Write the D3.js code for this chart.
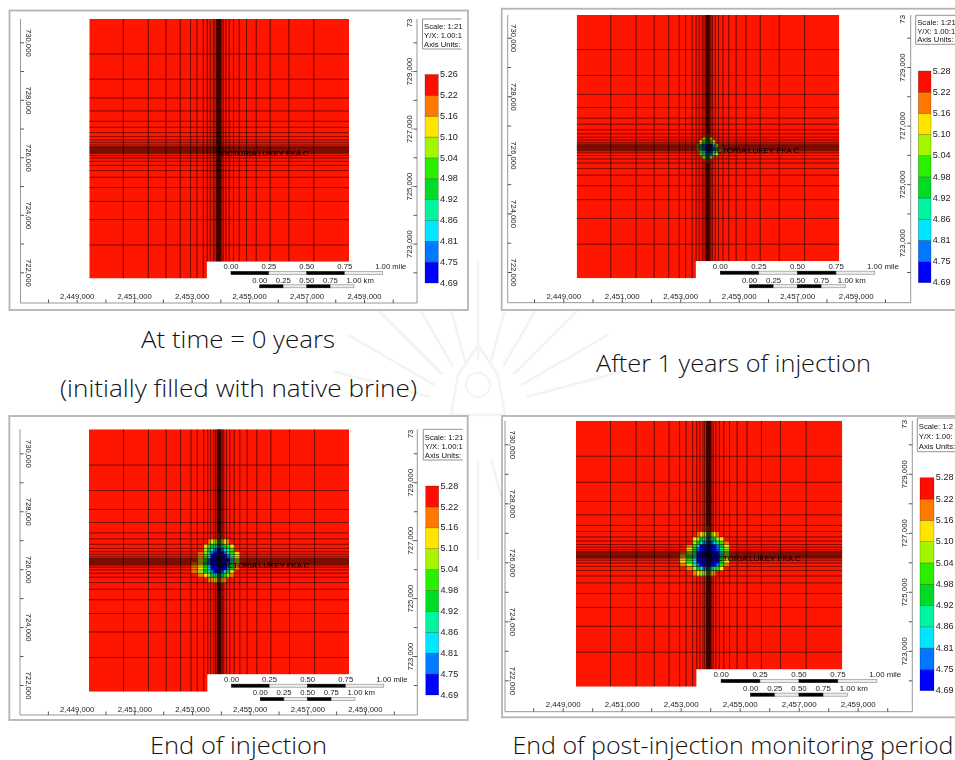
<!DOCTYPE html>
<html><head><meta charset="utf-8">
<script src="https://cdnjs.cloudflare.com/ajax/libs/d3/7.8.5/d3.min.js"></script>
<style>html,body{margin:0;padding:0;background:#fff;overflow:hidden}svg{display:block}text{font-family:"Liberation Sans",Arial,sans-serif}</style>
</head><body><svg id="c" width="955" height="760"></svg>
<script>
// ---------- data ----------
const gridX=[2450622,2451491,2452106,2452604,2452964,2453184,2453405,2453544,2453648,2453752,2453810,2453868,2453887,2453905,2453922,2453940,2453957,2453975,2453992,2454010,2454050,2454100,2454193,2454309,2454460,2454657,2454912,2455248,2455735,2456384,2457254];
const gridY=[729594,728713,728063,727611,727252,727043,726858,726718,726602,726510,726429,726371,726340,726313,726284,726255,726226,726197,726168,726139,726069,725976,725860,725721,725536,725304,724945,724469,723831,722950];
const plumeX=[2452964,2453184,2453405,2453544,2453648,2453752,2453868,2453975,2454100,2454193,2454309,2454460,2454657];
const plumeY=[727252,727043,726858,726718,726602,726510,726371,726255,726139,725976,725860,725721,725536];
const bins=[4.75,4.81,4.86,4.92,4.98,5.04,5.10,5.16,5.22];
const binColors=["#0000ff","#0078ff","#00e6ff","#00f5a0","#00dc28","#2cf000","#a6f500","#ffe400","#ff7800","#ff0a00"];
const legendLow=["4.69","4.75","4.81","4.86","4.92","4.98","5.04","5.10","5.16","5.22"];
const legendTopFirst="5.26", legendTopOther="5.28";
const labelX=[2449000,2451000,2453000,2455000,2457000,2459000];
const tickX=[2448000,2449000,2450000,2451000,2452000,2453000,2454000,2455000,2456000,2457000,2458000,2459000,2460000];
const labelLeft=[722000,724000,726000,728000,730000];
const labelRight=[723000,725000,727000,729000];
const tickY=[722000,723000,724000,725000,726000,727000,728000,729000,730000];
const scaleMiles=[0,0.25,0.5,0.75,1];
const scaleKm=[0,0.25,0.5,0.75,1];
const infoLines=["Scale: 1:21","Y/X: 1.00:1","Axis Units:"];
const infoLinesCut=["Scale: 1:2","Y/X: 1.00:","Axis Units:"];
const captions=[["At time = 0 years",238,339,194],["(initially filled with native brine)",238.5,388,357],["After 1 years of injection",733.5,363,275],["End of injection",238.5,745,177],["End of post-injection monitoring period",733,745,441]];
const plumeAfter1=[
[5.24,5.24,5.24,5.24,5.24,5.24,5.24,5.24,5.24,5.24,5.24,5.24],
[5.24,5.24,5.24,5.24,5.24,5.24,5.24,5.24,5.24,5.24,5.24,5.24],
[5.24,5.24,5.24,5.24,5.24,5.24,5.24,5.24,5.24,5.24,5.24,5.24],
[5.24,5.24,5.24,5.24,5.24,5.24,5.19,5.24,5.24,5.24,5.24,5.24],
[5.24,5.24,5.24,5.24,5.24,5.13,5.01,5.13,5.24,5.24,5.24,5.24],
[5.24,5.24,5.24,5.24,5.13,5.01,4.89,5.01,5.13,5.24,5.24,5.24],
[5.24,5.24,5.24,5.19,4.95,4.78,4.72,4.72,4.89,5.13,5.24,5.24],
[5.24,5.24,5.24,5.19,4.95,4.78,4.72,4.72,4.78,5.01,5.19,5.24],
[5.24,5.24,5.24,5.24,5.01,4.89,4.78,4.78,4.89,5.07,5.24,5.24],
[5.24,5.24,5.24,5.24,5.24,5.07,4.95,5.07,5.24,5.24,5.24,5.24],
[5.24,5.24,5.24,5.24,5.24,5.24,5.19,5.24,5.24,5.24,5.24,5.24],
[5.24,5.24,5.24,5.24,5.24,5.24,5.24,5.24,5.24,5.24,5.24,5.24]];
const plumeEndInj=[
[5.24,5.24,5.24,5.24,5.24,5.24,5.19,5.24,5.24,5.24,5.24,5.24],
[5.24,5.24,5.24,5.19,5.13,5.07,5.07,5.07,5.13,5.19,5.24,5.24],
[5.24,5.24,5.13,5.01,4.95,4.89,4.84,4.89,4.95,5.01,5.13,5.24],
[5.24,5.24,5.07,4.95,4.84,4.78,4.72,4.78,4.84,4.89,5.01,5.24],
[5.24,5.19,5.07,4.89,4.78,4.72,4.72,4.72,4.78,4.84,5.01,5.13],
[5.24,5.19,5.01,4.84,4.72,4.72,4.72,4.72,4.72,4.78,4.89,5.13],
[5.24,5.13,5.01,4.78,4.72,4.72,4.72,4.72,4.72,4.72,4.89,5.07],
[5.19,5.13,4.95,4.78,4.72,4.72,4.72,4.72,4.72,4.78,4.89,5.13],
[5.19,5.13,5.01,4.84,4.72,4.72,4.72,4.72,4.72,4.78,4.95,5.19],
[5.19,5.07,4.95,4.89,4.78,4.72,4.72,4.78,4.84,4.95,5.13,5.24],
[5.24,5.19,5.13,5.07,4.95,4.89,4.84,4.89,5.01,5.07,5.19,5.24],
[5.24,5.24,5.24,5.19,5.19,5.13,5.13,5.13,5.19,5.24,5.24,5.24]];
const plumeEndPost=[
[5.24,5.24,5.24,5.24,5.24,5.24,5.19,5.24,5.24,5.24,5.24,5.24],
[5.24,5.24,5.24,5.19,5.13,5.07,5.07,5.07,5.13,5.19,5.24,5.24],
[5.24,5.24,5.13,5.07,4.95,4.89,4.84,4.89,4.95,5.07,5.13,5.24],
[5.24,5.24,5.07,4.95,4.84,4.78,4.78,4.78,4.84,4.89,5.01,5.19],
[5.24,5.19,5.01,4.84,4.72,4.72,4.72,4.72,4.72,4.78,4.95,5.13],
[5.24,5.13,4.95,4.78,4.72,4.72,4.72,4.72,4.72,4.78,4.89,5.07],
[5.19,5.07,4.89,4.72,4.72,4.72,4.72,4.72,4.72,4.72,4.84,5.07],
[5.13,5.01,4.84,4.72,4.72,4.72,4.72,4.72,4.72,4.72,4.89,5.07],
[5.13,5.01,4.84,4.72,4.72,4.72,4.72,4.72,4.72,4.72,4.95,5.13],
[5.19,5.07,4.89,4.78,4.72,4.72,4.72,4.72,4.72,4.78,5.01,5.19],
[5.24,5.19,5.07,4.95,4.84,4.78,4.78,4.84,4.89,5.01,5.13,5.24],
[5.24,5.24,5.19,5.13,5.07,5.07,5.07,5.13,5.19,5.24,5.24,5.24]];
const plumeNone=null;
// ---------- layout of the four panels ----------
const panels=[
 {frame:[9.5,10.5,458.5,299.5],plot:[89.3,349,19,278.5],xr:[76.7,364],yr:[272.3,42.3],axL:20.5,axR:417,axB:303,lblL:29,lblR:409.7,top73:23,leg:[425,438.3,283,74.5],box:[422.5,19,39,30],legendTop:legendTopFirst,plume:plumeNone,info:infoLines},
 {frame:[501.7,8.7,470,301.3],plot:[576.7,839.3,15,278.3],xr:[563.3,855.7],yr:[272,37.7],axL:507.7,axR:910.7,axB:302.7,lblL:514,lblR:902.3,top73:19.3,leg:[918.3,931,282.7,71],box:[915.7,15.3,50,29],legendTop:legendTopOther,plume:plumeAfter1,info:infoLines},
 {frame:[9.3,416,458.4,304],plot:[89,349,429.3,691.7],xr:[76.7,365],yr:[685,453.3],axL:20,axR:417.3,axB:715,lblL:28.3,lblR:410,top73:434,leg:[425.7,438.7,695,486],box:[423.3,429.3,39.4,30.7],legendTop:legendTopOther,plume:plumeEndInj,info:infoLines},
 {frame:[502,416,470,301.3],plot:[576,842.3,420.7,686.7],xr:[562.7,857.7],yr:[680.3,444.3],axL:505,axR:912.3,axB:711.7,lblL:512.7,lblR:904.3,top73:424.3,leg:[920,934,690.7,477.7],box:[917.3,418,50,33.7],legendTop:legendTopOther,plume:plumeEndPost,info:infoLinesCut}];
const FT_PER_MILE=5280, FT_PER_KM=3281;
const svg=d3.select("#c");
const defs=svg.append("defs");
defs.append("filter").attr("id","soft").attr("x","-2%").attr("y","-2%").attr("width","104%").attr("height","104%")
 .append("feGaussianBlur").attr("stdDeviation",0.45);
const color=d3.scaleThreshold().domain(bins).range(binColors);
const fmt=d3.format(",");

// faint watermark rays in the gutter
const wm=svg.append("g").attr("stroke","#f3f3f3").attr("fill","none");
d3.range(-75,76,15).forEach(a=>{
  [a,a+180].forEach(b=>{const t=b*Math.PI/180;
  wm.append("line").attr("x1",478+Math.sin(t)*50).attr("y1",410-Math.cos(t)*50)
    .attr("x2",478+Math.sin(t)*150).attr("y2",410-Math.cos(t)*150).attr("stroke-width",2.5);});
});
wm.append("path").attr("d","M478 345 L498 375 L505 415 L451 415 L458 375 Z").attr("stroke-width",2.5);
wm.append("circle").attr("cx",478).attr("cy",385).attr("r",12).attr("stroke-width",2);

panels.forEach((p,i)=>{
  const g=svg.append("g").attr("filter","url(#soft)");
  const [fx,fy,fw,fh]=p.frame;
  g.append("rect").attr("x",fx).attr("y",fy).attr("width",fw).attr("height",fh).attr("fill","#fff").attr("stroke","#b4b4b4").attr("stroke-width",1.8);
  const x=d3.scaleLinear().domain([labelX[0],labelX[5]]).range(p.xr);
  const y=d3.scaleLinear().domain([722000,730000]).range(p.yr);
  const k=(p.xr[1]-p.xr[0])/287.3, fs=7.7*k;
  const [px0,px1,py0,py1]=p.plot;
  const cid="clip"+i;
  defs.append("clipPath").attr("id",cid).append("rect").attr("x",px0).attr("y",py0).attr("width",px1-px0).attr("height",py1-py0);
  const plot=g.append("g").attr("clip-path",`url(#${cid})`);
  plot.append("rect").attr("x",px0).attr("y",py0).attr("width",px1-px0).attr("height",py1-py0).attr("fill","#ff1400");
  // plume cells
  if(p.plume){
    p.plume.forEach((row,r)=>row.forEach((v,c)=>{
      if(color(v)===binColors[9])return;
      plot.append("rect").attr("x",x(plumeX[c])).attr("y",y(plumeY[r]))
        .attr("width",x(plumeX[c+1])-x(plumeX[c])+.3).attr("height",y(plumeY[r+1])-y(plumeY[r])+.3)
        .attr("fill",color(v));
    }));
  }
  // grid lines
  plot.selectAll(".gx").data(gridX).join("line").attr("x1",d=>x(d)).attr("x2",d=>x(d)).attr("y1",py0).attr("y2",py1)
    .attr("stroke","#000").attr("stroke-width",1).attr("stroke-opacity",.58);
  plot.selectAll(".gy").data(gridY).join("line").attr("y1",d=>y(d)).attr("y2",d=>y(d)).attr("x1",px0).attr("x2",px1)
    .attr("stroke","#000").attr("stroke-width",1).attr("stroke-opacity",.5);
  // well label
  g.append("text").attr("x",x(2453940)+1).attr("y",y(726255)+5.8*k).attr("font-size",fs).attr("fill","#000")
    .attr("textLength",89*k).attr("lengthAdjust","spacingAndGlyphs").text("VICTORIA LUKEY FKA C");
  // white scale-bar area
  const wx=x(2453530), wy=y(722373);
  g.append("rect").attr("x",wx).attr("y",wy).attr("width",px1-wx+1).attr("height",py1-wy+1).attr("fill","#fff");
  // axes
  g.append("path").attr("d",`M${p.axL},${py0}V${p.axB}H${p.axR}V${py0}`).attr("fill","none").attr("stroke","#8c8c8c").attr("stroke-width",.9);
  const tickStyle=s=>{s.select(".domain").remove();s.selectAll(".tick line").attr("stroke","#555").attr("stroke-width",1);};
  g.append("g").attr("transform",`translate(0,${p.axB})`).call(d3.axisBottom(x).tickValues(tickX).tickSize(-3.5).tickFormat("")).call(tickStyle);
  g.append("g").attr("transform",`translate(${p.axL},0)`).call(d3.axisLeft(y).tickValues(tickY).tickSize(-3.5).tickFormat("")).call(tickStyle);
  g.append("g").attr("transform",`translate(${p.axR},0)`).call(d3.axisRight(y).tickValues(tickY).tickSize(-3.5).tickFormat("")).call(tickStyle);
  const lbl=s=>{s.select(".domain").remove();s.selectAll(".tick line").remove();s.selectAll("text").attr("font-size",fs).attr("fill","#222").style("font-family",'"Liberation Sans",Arial,sans-serif');};
  g.append("g").attr("transform",`translate(0,${py1+17.6})`)
    .call(d3.axisBottom(x).tickValues(labelX).tickSize(0).tickPadding(0).tickFormat(fmt)).call(lbl)
    .selectAll("text").attr("y",0).attr("dy",".35em");
  g.append("g").attr("transform",`translate(${p.lblL},0)`)
    .call(d3.axisLeft(y).tickValues(labelLeft).tickSize(0).tickFormat(fmt)).call(lbl)
    .selectAll("text").attr("x",0).attr("dy",".35em").attr("text-anchor","middle").attr("transform","rotate(90)");
  g.append("g").attr("transform",`translate(${p.lblR},0)`)
    .call(d3.axisRight(y).tickValues(labelRight).tickSize(0).tickFormat(fmt)).call(lbl)
    .selectAll("text").attr("x",0).attr("dy",".35em").attr("text-anchor","middle").attr("transform","rotate(-90)");
  g.append("text").attr("transform",`translate(${p.lblR},${p.top73}) rotate(-90)`).attr("text-anchor","middle").attr("dy",".35em").attr("font-size",fs).attr("fill","#222").text("73");
  // scale bars
  const barY=[y(721976),y(721513)], barH=3*k;
  [[scaleMiles,FT_PER_MILE,2454371," mile"],[scaleKm,FT_PER_KM,2455370," km"]].forEach(([vals,ft,x0,unit],bi)=>{
    const sx=d3.scaleLinear().domain([0,1]).range([x(x0),x(x0+ft)]);
    vals.slice(0,-1).forEach((v,j)=>{
      g.append("rect").attr("x",sx(v)).attr("y",barY[bi]-barH/2).attr("width",sx(vals[j+1])-sx(v)).attr("height",barH)
        .attr("fill",j%2?"#ececec":"#000").attr("stroke",j%2?"#888":"#000").attr("stroke-width",.6);
    });
    vals.forEach((v,j)=>{
      const last=j===vals.length-1, t=d3.format(".2f")(v)+(last?unit:"");
      g.append("text").attr("x",last?sx(v)-7.5*k:sx(v)).attr("y",barY[bi]-6.3*k).attr("dy",".35em")
       .attr("text-anchor",last?"start":"middle").attr("font-size",fs).attr("fill","#222").text(t);
    });
  });
  // info box
  const [bx,by,bw,bh]=p.box;
  g.append("path").attr("d",`M${bx+bw},${by}H${bx}V${by+bh}H${bx+bw}`).attr("fill","none").attr("stroke","#888").attr("stroke-width",.9);
  p.info.forEach((t,j)=>g.append("text").attr("x",bx+1.5).attr("y",by+bh*(.25+.295*j)).attr("dy",".35em").attr("font-size",7.7).attr("fill","#111").text(t));
  // legend
  const [lx0,lx1,ly0,ly1]=p.leg;
  const legLabels=legendLow.concat([p.legendTop]);
  const ly=d3.scalePoint().domain(legLabels).range([ly0,ly1]);
  binColors.forEach((c,j)=>{
    g.append("rect").attr("x",lx0).attr("width",lx1-lx0).attr("y",ly(legLabels[j+1])).attr("height",ly(legLabels[j])-ly(legLabels[j+1]))
     .attr("fill",c).attr("stroke","#000").attr("stroke-opacity",.35).attr("stroke-width",.6);
  });
  legLabels.forEach(t=>g.append("text").attr("x",lx1+1.8).attr("y",ly(t)-.5).attr("dy",".35em").attr("font-size",9.1).attr("fill","#222").text(t));
});

// captions
svg.selectAll(".cap").data(captions).join("text").attr("class","cap").attr("x",d=>d[1]).attr("y",d=>d[2]).attr("dy",".35em")
  .attr("text-anchor","middle").attr("textLength",d=>d[3]).attr("lengthAdjust","spacingAndGlyphs")
  .style("font-family",'"Open Sans","Noto Sans",sans-serif').style("font-weight",300).attr("font-size",24.5).attr("fill","#111").text(d=>d[0]);
</script></body></html>
